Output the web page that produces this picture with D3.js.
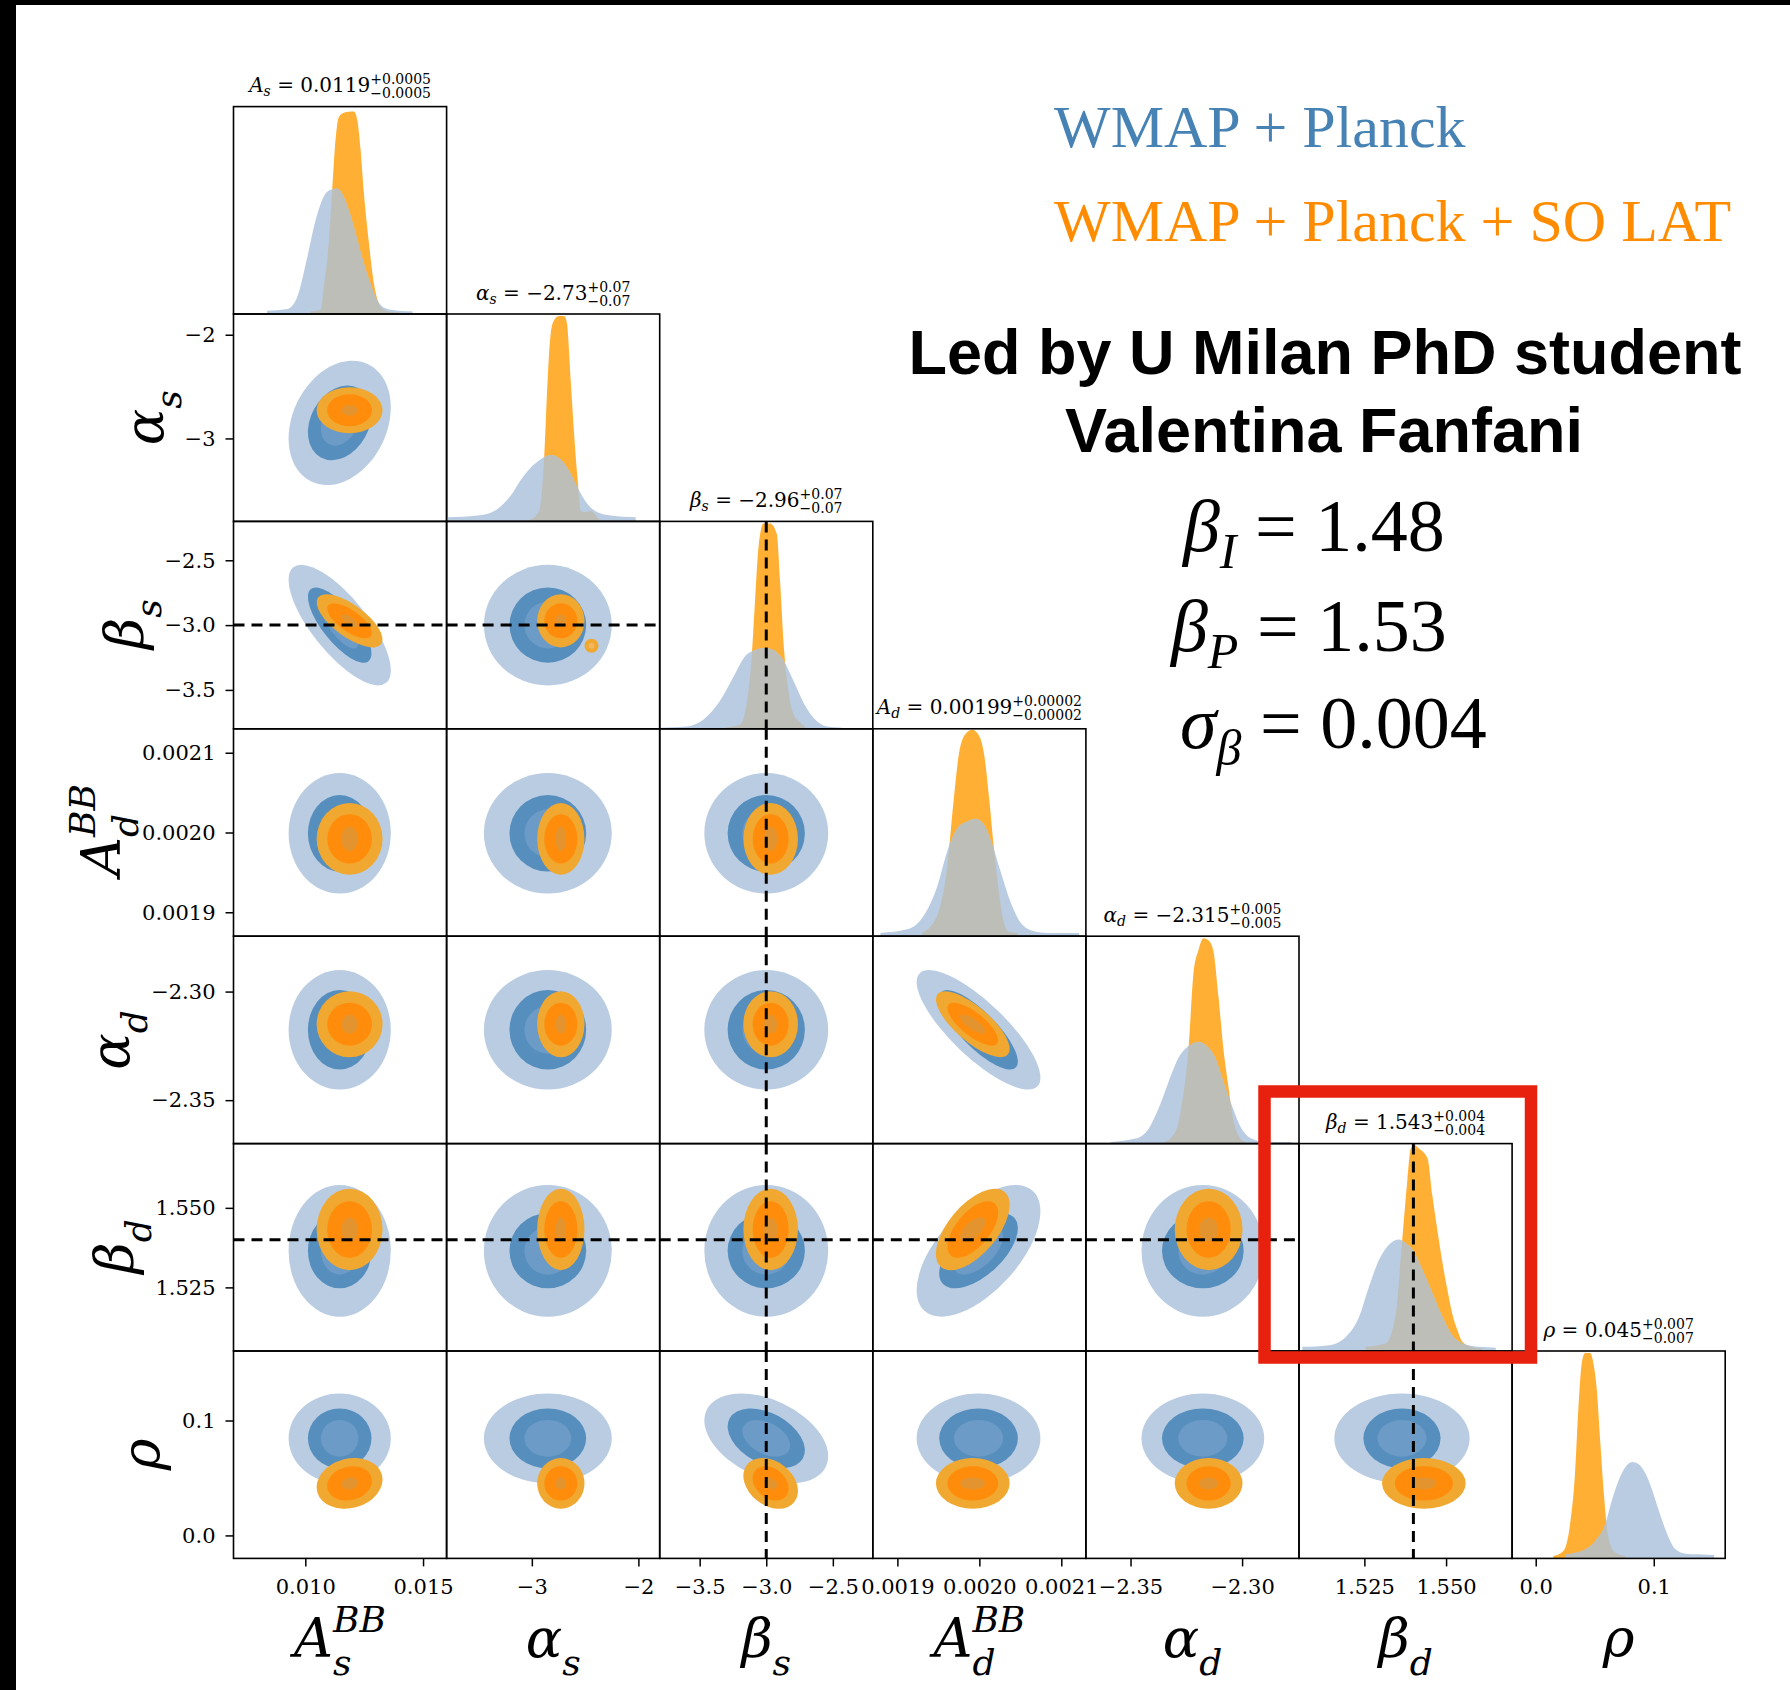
<!DOCTYPE html>
<html>
<head>
<meta charset="utf-8">
<title>corner plot</title>
<script src="https://cdn.jsdelivr.net/npm/d3@7/dist/d3.min.js"></script>
<style>
body { margin: 0; background: #ffffff; }
</style>
</head>
<body>
<script>
// parameters, in corner order
var params = ['A_s', 'alpha_s', 'beta_s', 'A_d', 'alpha_d', 'beta_d', 'rho'];
var domains = [[0.00695, 0.0160], [-3.8, -1.8], [-3.8, -2.2], [0.00187, 0.00213], [-2.370, -2.2745], [1.505, 1.5702], [-0.020, 0.1605]];
var tickValues = [[0.010, 0.015], [-3, -2], [-3.5, -3.0, -2.5], [0.0019, 0.0020, 0.0021], [-2.35, -2.30], [1.525, 1.550], [0.0, 0.1]];
var tickLabels = [['0.010', '0.015'], ['−3', '−2'], ['−3.5', '−3.0', '−2.5'], ['0.0019', '0.0020', '0.0021'], ['−2.35', '−2.30'], ['1.525', '1.550'], ['0.0', '0.1']];

// axis label pieces: symbol, subscript, superscript
var labelBase = ['A', 'α', 'β', 'A', 'α', 'β', 'ρ'];
var labelSub = ['s', 's', 's', 'd', 'd', 'd', ''];
var labelSup = ['BB', '', '', 'BB', '', '', ''];

// titles over the diagonal
var titleValue = ['0.0119', '−2.73', '−2.96', '0.00199', '−2.315', '1.543', '0.045'];
var titleErr = ['0.0005', '0.07', '0.07', '0.00002', '0.005', '0.004', '0.007'];

// dashed reference values
var truths = [null, null, -3.0, null, null, 1.54, null];

// 1D marginals, [value, height as fraction of panel], WMAP + Planck
var margWP_As = [[0.008371, 0.016], [0.009223, 0.024], [0.009649, 0.08], [0.010076, 0.27], [0.010431, 0.45], [0.010715, 0.55], [0.010928, 0.59], [0.011141, 0.6], [0.011354, 0.605], [0.011567, 0.58], [0.011851, 0.5], [0.012136, 0.39], [0.01242, 0.27], [0.012775, 0.145], [0.013059, 0.065], [0.013485, 0.024], [0.013982, 0.016], [0.014551, 0.013]];
var margWP_as = [[-3.791, 0.02], [-3.509, 0.028], [-3.353, 0.05], [-3.197, 0.125], [-3.103, 0.2], [-3.009, 0.26], [-2.916, 0.3], [-2.822, 0.32], [-2.759, 0.31], [-2.697, 0.28], [-2.634, 0.23], [-2.572, 0.165], [-2.478, 0.084], [-2.384, 0.044], [-2.259, 0.028], [-2.025, 0.02]];
var margWP_bs = [[-3.8, 0.005], [-3.599, 0.011], [-3.473, 0.044], [-3.348, 0.134], [-3.247, 0.25], [-3.159, 0.35], [-3.084, 0.38], [-3.009, 0.39], [-2.946, 0.38], [-2.871, 0.33], [-2.795, 0.23], [-2.72, 0.126], [-2.644, 0.052], [-2.544, 0.011], [-2.431, 0.005]];
var margWP_Ad = [[0.0018794, 0.016], [0.001912, 0.033], [0.0019323, 0.1], [0.0019486, 0.24], [0.0019609, 0.41], [0.0019731, 0.52], [0.0019853, 0.553], [0.0019955, 0.566], [0.0020057, 0.537], [0.0020159, 0.44], [0.0020261, 0.31], [0.0020383, 0.163], [0.0020505, 0.065], [0.0020668, 0.024], [0.0020831, 0.016], [0.0021218, 0.016]];
var margWP_ad = [[-2.3589, 0.008], [-2.3477, 0.024], [-2.3418, 0.073], [-2.3374, 0.17], [-2.3329, 0.3], [-2.3284, 0.415], [-2.324, 0.47], [-2.3195, 0.49], [-2.3158, 0.47], [-2.3121, 0.415], [-2.3084, 0.3], [-2.3047, 0.187], [-2.3003, 0.073], [-2.2958, 0.024], [-2.2899, 0.008], [-2.278, 0.008]];
var margWP_bd = [[1.506, 0.02], [1.5142, 0.028], [1.5193, 0.068], [1.5234, 0.165], [1.5264, 0.31], [1.5295, 0.44], [1.5326, 0.514], [1.5356, 0.538], [1.5377, 0.52], [1.5397, 0.49], [1.5428, 0.39], [1.5458, 0.28], [1.5489, 0.165], [1.5519, 0.076], [1.555, 0.036], [1.5601, 0.02], [1.5652, 0.016]];
var margWP_rho = [[0.0248, 0.02], [0.039, 0.036], [0.0504, 0.084], [0.0589, 0.165], [0.0645, 0.28], [0.0702, 0.376], [0.0759, 0.44], [0.0816, 0.465], [0.0872, 0.454], [0.0929, 0.41], [0.0986, 0.33], [0.1043, 0.23], [0.1114, 0.117], [0.1184, 0.044], [0.127, 0.023], [0.1383, 0.02], [0.1511, 0.016]];

// 1D marginals, WMAP + Planck + SO LAT
var margSO_As = [[0.010218, 0.012], [0.010644, 0.02], [0.010786, 0.13], [0.011, 0.35], [0.011141, 0.6], [0.011283, 0.84], [0.011425, 0.95], [0.011638, 0.97], [0.01185, 0.975], [0.012064, 0.976], [0.012207, 0.935], [0.012349, 0.79], [0.012491, 0.58], [0.012704, 0.34], [0.012917, 0.145], [0.01313, 0.05], [0.013414, 0.016], [0.013982, 0.008]];
var margSO_as = [[-3.025, 0.006], [-2.931, 0.05], [-2.884, 0.31], [-2.853, 0.67], [-2.822, 0.91], [-2.791, 0.97], [-2.744, 0.99], [-2.697, 0.99], [-2.672, 0.96], [-2.634, 0.67], [-2.603, 0.42], [-2.572, 0.21], [-2.541, 0.05], [-2.494, 0.044], [-2.447, 0.05], [-2.4, 0.03], [-2.369, 0.01]];
var margSO_bs = [[-3.298, 0.007], [-3.197, 0.02], [-3.147, 0.12], [-3.109, 0.35], [-3.084, 0.62], [-3.059, 0.87], [-3.021, 0.99], [-2.971, 0.99], [-2.921, 0.94], [-2.896, 0.71], [-2.866, 0.38], [-2.833, 0.18], [-2.795, 0.07], [-2.745, 0.03], [-2.707, 0.01]];
var margSO_Ad = [[0.0019303, 0.016], [0.0019486, 0.1], [0.0019609, 0.34], [0.001969, 0.67], [0.0019751, 0.88], [0.0019833, 0.976], [0.0019914, 0.995], [0.0019996, 0.967], [0.0020057, 0.88], [0.0020118, 0.67], [0.0020179, 0.42], [0.002024, 0.21], [0.0020301, 0.065], [0.0020363, 0.02], [0.0020464, 0.016]];
var margSO_ad = [[-2.3351, 0.005], [-2.3299, 0.057], [-2.327, 0.19], [-2.324, 0.46], [-2.3218, 0.82], [-2.3195, 0.935], [-2.3173, 0.99], [-2.3151, 0.98], [-2.3129, 0.93], [-2.3106, 0.71], [-2.3084, 0.46], [-2.3062, 0.28], [-2.304, 0.12], [-2.3017, 0.04], [-2.2988, 0.008]];
var margSO_bd = [[1.5254, 0.02], [1.5315, 0.036], [1.5346, 0.18], [1.5366, 0.54], [1.5382, 0.83], [1.5392, 0.976], [1.5402, 0.995], [1.5417, 0.976], [1.5443, 0.93], [1.5458, 0.75], [1.5473, 0.587], [1.5489, 0.425], [1.5504, 0.295], [1.5519, 0.18], [1.5535, 0.1], [1.555, 0.044], [1.5576, 0.02], [1.5611, 0.011]];
var margSO_rho = [[0.0149, 0.011], [0.0234, 0.036], [0.0291, 0.165], [0.0333, 0.41], [0.0362, 0.73], [0.039, 0.94], [0.0418, 0.99], [0.0461, 0.99], [0.0489, 0.94], [0.0518, 0.81], [0.0546, 0.57], [0.0575, 0.33], [0.0603, 0.15], [0.0631, 0.068], [0.0674, 0.028], [0.0759, 0.011]];

var margWP = [margWP_As, margWP_as, margWP_bs, margWP_Ad, margWP_ad, margWP_bd, margWP_rho];
var margSO = [margSO_As, margSO_as, margSO_bs, margSO_Ad, margSO_ad, margSO_bd, margSO_rho];

// 2D contours: centre and half-widths of the 2 sigma, 1 sigma and inner levels
var centreWP = [0.01146, -2.85, -3.0, 0.001999, -2.3176, 1.5365, 0.0845];
var outerWP = [0.00217, 0.60, 0.465, 0.0000755, 0.0275, 0.0207, 0.039];
var innerWP = [0.00135, 0.36, 0.29, 0.000048, 0.0183, 0.0118, 0.026];
var coreWP = [0.0008, 0.22, 0.18, 0.00003, 0.011, 0.0075, 0.016];
var centreSO = [0.01188, -2.728, -2.967, 0.001992, -2.315, 1.5432, 0.0453];
var outerSO = [0.0014, 0.222, 0.205, 0.000045, 0.0152, 0.0128, 0.0221];
var innerSO = [0.00095, 0.155, 0.135, 0.000031, 0.0099, 0.0089, 0.015];
var coreSO = [0.00035, 0.05, 0.05, 0.0000155, 0.0044, 0.0038, 0.0053];

// correlations for the tilted panels [row, col]
var corrPairs = [[1, 0], [2, 0], [4, 3], [5, 3], [6, 2], [6, 0]];
var corrWP = [0.25, -0.75, -0.8, 0.6, -0.4, 0];
var corrSO = [0, -0.7, -0.75, 0.6, -0.3, 0.15];

// small stray SO LAT island: [row, col, x, y, half x, half y]
var islandSO = [[2, 1, -2.44, -3.159, 0.066, 0.054]];

var serif = '"DejaVu Serif", serif';
var times = '"Liberation Serif", "Times New Roman", serif';
var sans = '"Liberation Sans", Arial, sans-serif';

var width = 1790, height = 1690;
var gridLeft = 233.5, gridTop = 106.6, cellW = 213.1, cellH = 207.4;
var nPar = params.length;
var gridBottom = gridTop + nPar * cellH;

var colWP = '#b9cce2', colWP1 = '#568ebe', colWP0 = '#6b9bc6';
var colSO = '#ffaf33', colSO2 = '#f0a830', colSO1 = '#ff8c0a', colSO0 = '#e4942f';
var colOverlap = '#bdbeb7';

var svg = d3.select('body').append('svg')
    .attr('width', width)
    .attr('height', height);
var defs = svg.append('defs');

svg.append('rect').attr('width', width).attr('height', height).attr('fill', '#ffffff');

function xScale(k) {
    return d3.scaleLinear().domain(domains[k])
        .range([gridLeft + k * cellW, gridLeft + (k + 1) * cellW]);
}

function yScale(k) {
    return d3.scaleLinear().domain(domains[k])
        .range([gridTop + (k + 1) * cellH, gridTop + k * cellH]);
}

function pairCorr(list, row, col) {
    for (var i = 0; i < corrPairs.length; i++) {
        if (corrPairs[i][0] == row && corrPairs[i][1] == col) return list[i];
    }
    return 0;
}

// one text, pieces written one after another; stack:true starts where the previous piece did
function mathRun(g, pieces, family) {
    var text = g.append('text')
        .attr('font-family', family)
        .attr('fill', '#000')
        .style('white-space', 'pre');
    var x = 0, prevX = 0;
    pieces.forEach(function(p) {
        if (!p.t) return;
        var px = p.stack ? prevX : x;
        var t = text.append('tspan')
            .attr('x', px)
            .attr('y', p.dy || 0)
            .attr('font-size', p.size)
            .attr('font-style', p.italic ? 'italic' : 'normal')
            .text(p.t);
        x = Math.max(x, px + t.node().getComputedTextLength());
        prevX = px;
    });
    return x;
}

// ellipse with given data half-extents and correlation
function drawEllipse(g, xs, ys, cx, cy, hx, hy, r, fill) {
    var px = xs(cx), py = ys(cy);
    var ax = Math.abs(xs(cx + hx) - px), ay = Math.abs(ys(cy + hy) - py);
    var c11 = ax * ax, c22 = ay * ay, c12 = -r * ax * ay;
    var mid = (c11 + c22) / 2;
    var dif = Math.sqrt((c11 - c22) * (c11 - c22) / 4 + c12 * c12);
    var ang = 0.5 * Math.atan2(2 * c12, c11 - c22) * 180 / Math.PI;
    g.append('ellipse')
        .attr('cx', px)
        .attr('cy', py)
        .attr('rx', Math.sqrt(mid + dif))
        .attr('ry', Math.sqrt(Math.max(mid - dif, 0)))
        .attr('transform', 'rotate(' + ang + ',' + px + ',' + py + ')')
        .attr('fill', fill);
}

function drawMarginal(g, k) {
    var xs = xScale(k);
    var hs = d3.scaleLinear().domain([0, 1])
        .range([gridTop + (k + 1) * cellH, gridTop + k * cellH]);
    var area = d3.area()
        .x(function(d) { return xs(d[0]); })
        .y0(hs(0))
        .y1(function(d) { return hs(d[1]); })
        .curve(d3.curveMonotoneX);

    defs.append('clipPath').attr('id', 'so-' + k)
        .append('path').attr('d', area(margSO[k]));

    g.append('path').attr('d', area(margSO[k])).attr('fill', colSO);
    g.append('path').attr('d', area(margWP[k])).attr('fill', colWP);
    g.append('path').attr('d', area(margWP[k]))
        .attr('fill', colOverlap)
        .attr('clip-path', 'url(#so-' + k + ')');
}

function drawContours(g, row, col) {
    var xs = xScale(col), ys = yScale(row);
    var rW = pairCorr(corrWP, row, col), rS = pairCorr(corrSO, row, col);
    var levels = [
        [centreWP, outerWP, rW, colWP],
        [centreWP, innerWP, rW, colWP1],
        [centreWP, coreWP, rW, colWP0],
        [centreSO, outerSO, rS, colSO2],
        [centreSO, innerSO, rS, colSO1],
        [centreSO, coreSO, rS, colSO0]
    ];
    levels.forEach(function(l) {
        drawEllipse(g, xs, ys, l[0][col], l[0][row], l[1][col], l[1][row], l[2], l[3]);
    });
    islandSO.forEach(function(d) {
        if (d[0] == row && d[1] == col) {
            drawEllipse(g, xs, ys, d[2], d[3], d[4], d[5], 0, colSO2);
            drawEllipse(g, xs, ys, d[2], d[3], d[4] * 0.4, d[5] * 0.4, 0, '#f5b860');
        }
    });
}

// panels
for (var row = 0; row < nPar; row++) {
    for (var col = 0; col <= row; col++) {
        var px = gridLeft + col * cellW, py = gridTop + row * cellH;
        var cid = 'clip-' + row + '-' + col;
        defs.append('clipPath').attr('id', cid)
            .append('rect')
            .attr('x', px).attr('y', py)
            .attr('width', cellW).attr('height', cellH);

        var g = svg.append('g').attr('clip-path', 'url(#' + cid + ')');
        if (row == col) drawMarginal(g, row);
        else drawContours(g, row, col);

        // dashed reference lines
        if (truths[col] !== null) {
            var tx = xScale(col)(truths[col]);
            g.append('line')
                .attr('x1', tx).attr('x2', tx)
                .attr('y1', py).attr('y2', py + cellH)
                .attr('stroke', '#000').attr('stroke-width', 3)
                .attr('stroke-dasharray', '11,7');
        }
        if (row != col && truths[row] !== null) {
            var ty = yScale(row)(truths[row]);
            g.append('line')
                .attr('x1', px).attr('x2', px + cellW)
                .attr('y1', ty).attr('y2', ty)
                .attr('stroke', '#000').attr('stroke-width', 3)
                .attr('stroke-dasharray', '11,7');
        }

        svg.append('rect')
            .attr('x', px).attr('y', py)
            .attr('width', cellW).attr('height', cellH)
            .attr('fill', 'none')
            .attr('stroke', '#000')
            .attr('stroke-width', 1.6);
    }
}

// titles over the diagonal
for (var k = 0; k < nPar; k++) {
    var tg = svg.append('g');
    var tw = mathRun(tg, [
        {t: labelBase[k], size: 20, italic: true},
        {t: labelSub[k], size: 14, dy: 4, italic: true},
        {t: ' = ' + titleValue[k], size: 20},
        {t: '+' + titleErr[k], size: 14, dy: -8},
        {t: '−' + titleErr[k], size: 14, dy: 6, stack: true}
    ], serif);
    tg.attr('transform', 'translate(' + (gridLeft + (k + 0.5) * cellW - tw / 2) + ','
        + (gridTop + k * cellH - 14.5) + ')');
}

// big axis label pieces
function labelPieces(k) {
    return [
        {t: labelBase[k], size: 54, italic: true},
        {t: labelSub[k], size: 36, dy: 18, italic: true},
        {t: labelSup[k], size: 36, dy: -25, italic: true, stack: true}
    ];
}

// y axes on the first column
for (var r = 1; r < nPar; r++) {
    var yAxis = svg.append('g')
        .attr('transform', 'translate(' + gridLeft + ',0)')
        .call(d3.axisLeft(yScale(r))
            .tickValues(tickValues[r])
            .tickFormat(function(d, i) { return tickLabels[r][i]; })
            .tickSize(8)
            .tickPadding(10));
    yAxis.select('.domain').remove();
    yAxis.attr('font-size', 21).attr('font-family', serif);
    yAxis.selectAll('line').attr('stroke-width', 1.5);

    var tickLeft = gridLeft + yAxis.node().getBBox().x;
    var lg = svg.append('g');
    var inner = lg.append('g');
    mathRun(inner, labelPieces(r), serif);
    var b = inner.node().getBBox();
    var rowMid = gridTop + (r + 0.5) * cellH;
    lg.attr('transform', 'translate(' + (tickLeft - 22) + ',' + (rowMid + b.x + b.width / 2) + ') rotate(-90)');
}

// x axes on the bottom row
for (var c = 0; c < nPar; c++) {
    var xAxis = svg.append('g')
        .attr('transform', 'translate(0,' + gridBottom + ')')
        .call(d3.axisBottom(xScale(c))
            .tickValues(tickValues[c])
            .tickFormat(function(d, i) { return tickLabels[c][i]; })
            .tickSize(8)
            .tickPadding(13));
    xAxis.select('.domain').remove();
    xAxis.attr('font-size', 21).attr('font-family', serif);
    xAxis.selectAll('line').attr('stroke-width', 1.5);

    var bg = svg.append('g');
    var bw = mathRun(bg, labelPieces(c), serif);
    bg.attr('transform', 'translate(' + (gridLeft + (c + 0.5) * cellW - bw / 2) + ',1657)');
}

// legend
svg.append('text')
    .attr('x', 1054).attr('y', 147)
    .attr('font-family', times).attr('font-size', 60)
    .attr('fill', '#4682b4')
    .text('WMAP + Planck');
svg.append('text')
    .attr('x', 1054).attr('y', 241)
    .attr('font-family', times).attr('font-size', 60)
    .attr('fill', '#ff8c00')
    .text('WMAP + Planck + SO LAT');

// credit
svg.append('text')
    .attr('x', 1325).attr('y', 374)
    .attr('text-anchor', 'middle')
    .attr('font-family', sans).attr('font-weight', 'bold').attr('font-size', 63)
    .text('Led by U Milan PhD student');
svg.append('text')
    .attr('x', 1324).attr('y', 451.5)
    .attr('text-anchor', 'middle')
    .attr('font-family', sans).attr('font-weight', 'bold').attr('font-size', 63)
    .text('Valentina Fanfani');

// input values
var formulaSym = ['β', 'β', 'σ'];
var formulaSub = ['I', 'P', 'β'];
var formulaVal = ['1.48', '1.53', '0.004'];
var formulaPos = [[1183, 551], [1171, 650.5], [1180, 747.5]];
for (var f = 0; f < 3; f++) {
    var fg = svg.append('g')
        .attr('transform', 'translate(' + formulaPos[f][0] + ',' + formulaPos[f][1] + ')');
    mathRun(fg, [
        {t: formulaSym[f], size: 74, italic: true},
        {t: formulaSub[f], size: 50, dy: 17, italic: true},
        {t: ' = ' + formulaVal[f], size: 74}
    ], times);
}

// highlight box
svg.append('rect')
    .attr('x', 1264.5).attr('y', 1091.5)
    .attr('width', 266.5).attr('height', 266)
    .attr('fill', 'none')
    .attr('stroke', '#e8200e')
    .attr('stroke-width', 12.5);

// black edges of the screenshot
svg.append('rect').attr('x', 0).attr('y', 0).attr('width', width).attr('height', 5).attr('fill', '#000');
svg.append('rect').attr('x', 0).attr('y', 0).attr('width', 16).attr('height', height).attr('fill', '#000');
</script>
</body>
</html>
